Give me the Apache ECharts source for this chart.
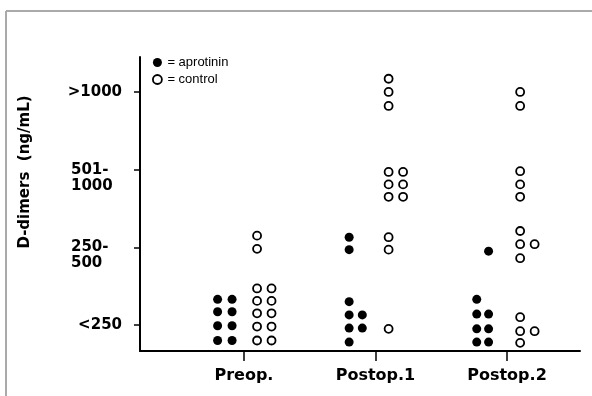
<!DOCTYPE html>
<html>
<head>
<meta charset="utf-8">
<script src="https://cdn.jsdelivr.net/npm/echarts@6/dist/echarts.min.js"></script>
<style>html,body{margin:0;padding:0;background:#fff}#c{width:592px;height:396px}</style>
</head>
<body>
<div id="c"></div>
<script>
const categories = ['Preop.', 'Postop.1', 'Postop.2'];
const levelLabels = ['<250', '250-\n500', '501-\n1000', '>1000'];
const pValues = ['(ns)', '(.002)', '(.14)'];
const pValueX = [-0.03, 0.96, 1.98];
const pValueY = [1.42, 3.45, 3.45];

// [category position (index + offset), D-dimer level (band index + offset)]
const aprotinin = [
  [-0.20, 0.33], [-0.09, 0.33], [-0.20, 0.17], [-0.09, 0.17], [-0.20, -0.01], [-0.09, -0.01], [-0.20, -0.20], [-0.09, -0.20],
  [0.80, 1.13], [0.80, 0.97], [0.80, 0.30], [0.80, 0.13], [0.90, 0.13], [0.80, -0.04], [0.90, -0.04], [0.80, -0.22],
  [1.77, 0.33], [1.77, 0.14], [1.86, 0.14], [1.77, -0.05], [1.86, -0.05], [1.77, -0.22], [1.86, -0.22], [1.86, 0.95]
];
const control = [
  [0.10, 1.15], [0.10, 0.98], [0.10, 0.47], [0.21, 0.47], [0.10, 0.31], [0.21, 0.31], [0.10, 0.15], [0.21, 0.15], [0.10, -0.02], [0.21, -0.02], [0.10, -0.20], [0.21, -0.20],
  [1.10, 3.17], [1.10, 3.00], [1.10, 2.82], [1.10, 1.97], [1.21, 1.97], [1.10, 1.81], [1.21, 1.81], [1.10, 1.65], [1.21, 1.65], [1.10, 1.13], [1.10, 0.97], [1.10, -0.05],
  [2.10, 3.00], [2.10, 2.82], [2.10, 1.98], [2.10, 1.81], [2.10, 1.65], [2.10, 1.21], [2.10, 1.04], [2.21, 1.04], [2.10, 0.86], [2.10, 0.10], [2.10, -0.08], [2.21, -0.08], [2.10, -0.23]
];

const chart = echarts.init(document.getElementById('c'), null, {renderer: 'canvas'});
const boldFont = '"DejaVu Sans", sans-serif';

function levelFormatter(v) {
  const s = levelLabels[Math.round(v)] || '';
  const parts = s.split('\n');
  if (parts.length === 1) return '{o|' + parts[0] + '}';
  return '{s|\u00a0}\n{a|' + parts[0] + '}\n{a|' + parts[1] + '}';
}

const option = {
  animation: false,
  backgroundColor: '#fff',
  grid: {left: 140, right: 12, top: 57, bottom: 45},
  legend: {
    orient: 'vertical',
    left: 152,
    top: 56,
    padding: 0,
    itemWidth: 10,
    itemHeight: 9,
    itemGap: 4,
    textStyle: {fontFamily: '"Liberation Sans", Arial, sans-serif', fontSize: 13, color: '#000'},
    formatter: n => '= ' + n,
    data: [
      {name: 'aprotinin', icon: 'circle', itemStyle: {color: '#000', borderWidth: 0, opacity: 1}},
      {name: 'control', icon: 'circle', itemStyle: {color: '#fff', borderColor: '#000', borderWidth: 1.8, opacity: 1}}
    ]
  },
  xAxis: {
    type: 'value',
    min: -0.79,
    max: 2.555,
    splitLine: {show: false},
    axisLine: {show: true, onZero: false, lineStyle: {color: '#000', width: 2}},
    axisTick: {show: true, length: 10, customValues: [0, 1, 2], lineStyle: {color: '#000', width: 1.5}},
    axisLabel: {
      customValues: [0, 1, 2],
      formatter: v => categories[Math.round(v)],
      margin: 17,
      fontFamily: boldFont, fontWeight: 'bold', fontSize: 16, color: '#000'
    }
  },
  yAxis: {
    type: 'value',
    min: -0.335,
    max: 3.45,
    name: 'D-dimers  (ng/mL)',
    nameLocation: 'middle',
    nameRotate: 90,
    nameGap: 107,
    nameTextStyle: {fontFamily: boldFont, fontWeight: 'bold', fontSize: 15, color: '#000', padding: [0, 0, 0, 64]},
    splitLine: {show: false},
    axisLine: {show: true, onZero: false, lineStyle: {color: '#000', width: 2}},
    axisTick: {show: true, length: 6, customValues: [0, 1, 2, 3], lineStyle: {color: '#000', width: 1.5}},
    axisLabel: {
      customValues: [0, 1, 2, 3],
      margin: 18,
      formatter: levelFormatter,
      color: '#000',
      rich: {
        o: {fontFamily: boldFont, fontWeight: 'bold', fontSize: 15, color: '#000', lineHeight: 16},
        a: {fontFamily: boldFont, fontWeight: 'bold', fontSize: 15, color: '#000', lineHeight: 16, width: 51, align: 'left'},
        s: {fontSize: 15, lineHeight: 16}
      }
    }
  },
  graphic: [
    {type: 'line', shape: {x1: 6, y1: 11, x2: 592, y2: 11}, style: {stroke: '#555', lineWidth: 1}, silent: true},
    {type: 'line', shape: {x1: 6, y1: 11, x2: 6, y2: 396}, style: {stroke: '#aaa', lineWidth: 2}, silent: true}
  ],
  series: [
    {
      name: 'aprotinin', type: 'scatter', data: aprotinin, symbol: 'circle', symbolSize: 9,
      itemStyle: {color: '#000', opacity: 1}, clip: false, silent: true
    },
    {
      name: 'control', type: 'scatter', data: control, symbol: 'circle', symbolSize: 8,
      itemStyle: {color: '#fff', borderColor: '#000', borderWidth: 1.8, opacity: 1}, clip: false, silent: true
    },
    {
      name: 'p', type: 'scatter', symbolSize: 1, clip: false, silent: true,
      itemStyle: {opacity: 0},
      data: pValues.map((t, i) => ({name: t, value: [pValueX[i], pValueY[i]]})),
      label: {
        show: true, position: 'inside', formatter: p => p.name,
        fontFamily: boldFont, fontWeight: 'bold', fontSize: 14, color: '#000'
      }
    }
  ]
};
chart.setOption(option);
</script>
</body>
</html>
